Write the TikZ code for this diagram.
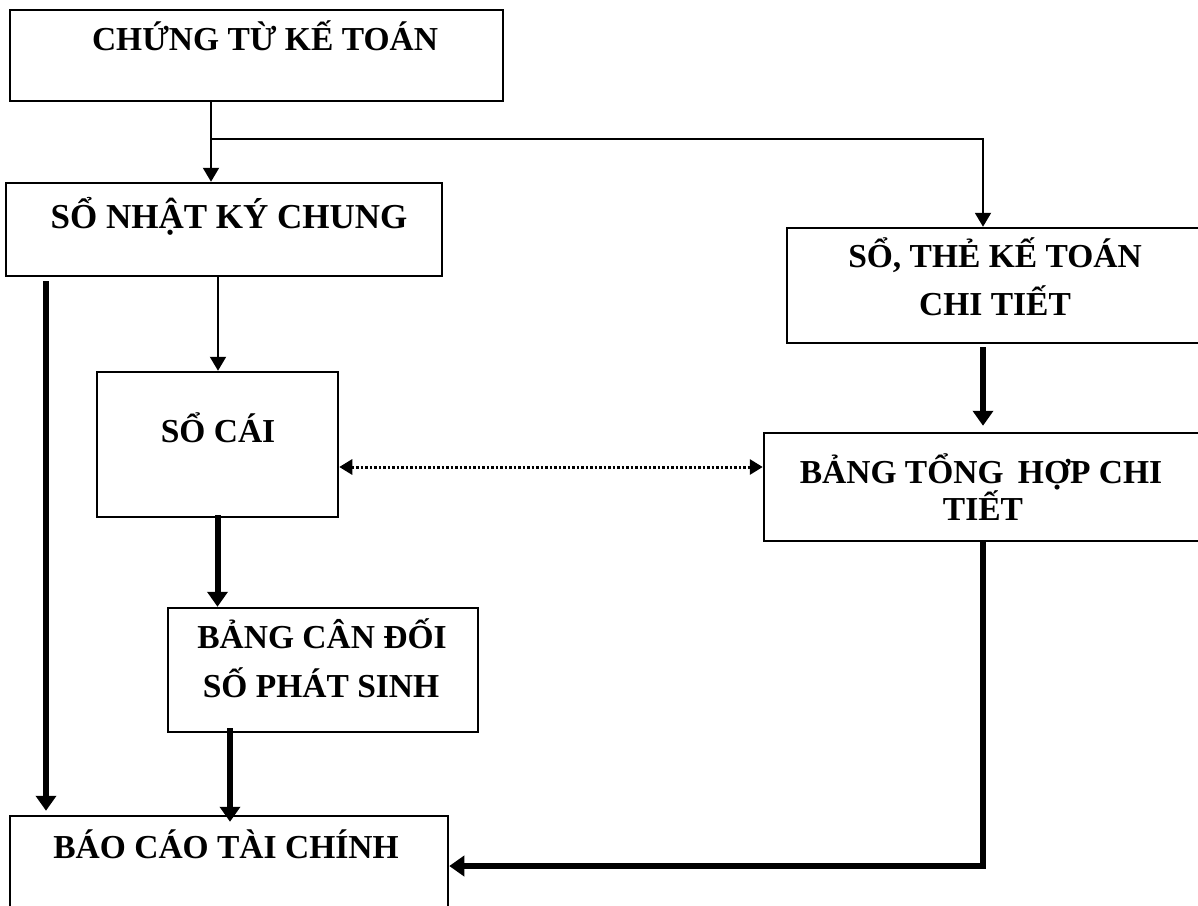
\documentclass[tikz,border=0pt]{standalone}
\usepackage{fontspec}
\setmainfont{Liberation Serif}
\usetikzlibrary{arrows.meta}
\begin{document}
\begin{tikzpicture}[x=1pt,y=-1pt,
  box/.style={draw,line width=2.5pt,rectangle,inner sep=0pt},
  lbl/.style={anchor=base,inner sep=0pt,font=\bfseries\fontsize{33.5}{40}\selectfont},
  thinarrow/.style={line width=2pt,-{Triangle[length=14pt,width=16pt]}},
  thickarrow/.style={line width=6pt,-{Triangle[length=15pt,width=20pt]}},
  dotarrow/.style={line width=3pt,dash pattern=on 2.5pt off 2pt,{Triangle[length=13pt,width=15pt]}-{Triangle[length=13pt,width=15pt]}}]
\useasboundingbox (0,0) rectangle (1198,905);
\clip (0,0) rectangle (1198,905);
% boxes
\node[box,minimum width=493pt,minimum height=91pt] (b1) at (256.5,55.5) {};
\node[box,minimum width=436pt,minimum height=93pt] (b2) at (224,229.5) {};
\node[box,minimum width=423pt,minimum height=115pt] (b3) at (998.5,285.5) {};
\node[box,minimum width=446pt,minimum height=108pt] (b4) at (987,487) {};
\node[box,minimum width=241pt,minimum height=145pt] (b5) at (217.5,444.5) {};
\node[box,minimum width=310pt,minimum height=124pt] (b6) at (323,670) {};
\node[box,minimum width=438pt,minimum height=104pt] (b7) at (229,868) {};
% texts
\node[lbl] (t1) at (265,50) {CHỨNG TỪ KẾ TOÁN};
\node[lbl,font=\bfseries\fontsize{35}{42}\selectfont] (t2) at (229,228) {SỔ NHẬT KÝ CHUNG};
\node[lbl] (t3a) at (995,267) {SỔ, THẺ KẾ TOÁN};
\node[lbl] (t3b) at (995,315) {CHI TIẾT};
\node[lbl] (t4a) at (981,483) {BẢNG TỔNG\hspace{6pt} HỢP CHI};
\node[lbl] (t4b) at (983,520) {TIẾT};
\node[lbl] (t5) at (218,442) {SỔ CÁI};
\node[lbl] (t6a) at (322,648) {BẢNG CÂN ĐỐI};
\node[lbl] (t6b) at (321,697) {SỐ PHÁT SINH};
\node[lbl] (t7) at (226,858) {BÁO CÁO TÀI CHÍNH};
% connectors
\coordinate (split) at (211,139);
\coordinate (dl) at ([yshift=-22.5pt]b5.east);
\draw[thinarrow] (b1.south -| split) -- (b2.north -| split);
\draw[thinarrow] (split) -| ([xshift=-15.5pt]b3.north);
\draw[thinarrow] ([xshift=-6pt]b2.south) -- ([xshift=0.5pt]b5.north);
\draw[dotarrow] (dl) -- (b4.west |- dl);
\draw[thickarrow] ([yshift=3pt]b5.south) -- (b5.south |- b6.north);
\draw[thickarrow] ([xshift=-93pt,yshift=5pt]b6.south) -- ([xshift=1pt,yshift=-7pt]b7.north);
\draw[thickarrow] ([xshift=-178pt,yshift=-4pt]b2.south) -- ([xshift=-183pt,yshift=4pt]b7.north);
\draw[thickarrow] ([xshift=-15.5pt,yshift=-3pt]b3.south) -- ([xshift=-4pt,yshift=6pt]b4.north);
\draw[thickarrow,line join=miter] ([xshift=-4pt]b4.south) |- ([yshift=2pt]b7.east);
\end{tikzpicture}
\end{document}
